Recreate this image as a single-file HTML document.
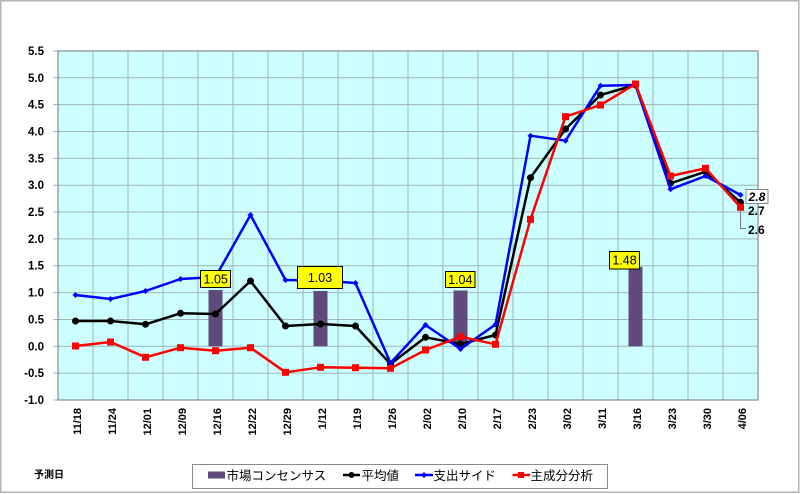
<!DOCTYPE html>
<html><head><meta charset="utf-8"><style>
html,body{margin:0;padding:0;background:#fff;}
svg{display:block;}
text{font-family:"Liberation Sans","Noto Sans CJK JP",sans-serif;}
</style></head><body>
<svg width="800" height="494" viewBox="0 0 800 494" xmlns="http://www.w3.org/2000/svg">
<rect x="0" y="0" width="800" height="494" fill="#fff"/>
<rect x="0.75" y="0.75" width="798" height="491.5" fill="none" stroke="#b4b4b4" stroke-width="1.5"/>
<!-- plot area -->
<rect x="58" y="51" width="700" height="349" fill="#ccffff"/>
<g stroke="#9fb6b6" stroke-width="1">
<line x1="93" y1="51" x2="93" y2="400"/><line x1="128" y1="51" x2="128" y2="400"/><line x1="163" y1="51" x2="163" y2="400"/><line x1="198" y1="51" x2="198" y2="400"/><line x1="233" y1="51" x2="233" y2="400"/><line x1="268" y1="51" x2="268" y2="400"/><line x1="303" y1="51" x2="303" y2="400"/><line x1="338" y1="51" x2="338" y2="400"/><line x1="373" y1="51" x2="373" y2="400"/><line x1="408" y1="51" x2="408" y2="400"/><line x1="443" y1="51" x2="443" y2="400"/><line x1="478" y1="51" x2="478" y2="400"/><line x1="513" y1="51" x2="513" y2="400"/><line x1="548" y1="51" x2="548" y2="400"/><line x1="583" y1="51" x2="583" y2="400"/><line x1="618" y1="51" x2="618" y2="400"/><line x1="653" y1="51" x2="653" y2="400"/><line x1="688" y1="51" x2="688" y2="400"/><line x1="723" y1="51" x2="723" y2="400"/>
<line x1="53" y1="77.8" x2="758" y2="77.8"/><line x1="53" y1="104.65" x2="758" y2="104.65"/><line x1="53" y1="131.5" x2="758" y2="131.5"/><line x1="53" y1="158.35" x2="758" y2="158.35"/><line x1="53" y1="185.2" x2="758" y2="185.2"/><line x1="53" y1="212.05" x2="758" y2="212.05"/><line x1="53" y1="238.9" x2="758" y2="238.9"/><line x1="53" y1="265.75" x2="758" y2="265.75"/><line x1="53" y1="292.6" x2="758" y2="292.6"/><line x1="53" y1="319.45" x2="758" y2="319.45"/><line x1="53" y1="346.3" x2="758" y2="346.3"/><line x1="53" y1="373.15" x2="758" y2="373.15"/>
<line x1="53" y1="51" x2="58" y2="51"/><line x1="53" y1="400" x2="58" y2="400"/>
</g>
<rect x="58" y="51" width="700" height="349" fill="none" stroke="#8a8a8a" stroke-width="1.2"/>
<!-- y labels -->
<g font-size="11.5" font-weight="bold" fill="#000" text-anchor="end">
<text x="44" y="55">5.5</text><text x="44" y="81.8">5.0</text><text x="44" y="108.6">4.5</text><text x="44" y="135.5">4.0</text><text x="44" y="162.3">3.5</text><text x="44" y="189.2">3.0</text><text x="44" y="216">2.5</text><text x="44" y="242.9">2.0</text><text x="44" y="269.7">1.5</text><text x="44" y="296.6">1.0</text><text x="44" y="323.4">0.5</text><text x="44" y="350.3">0.0</text><text x="44" y="377.1">-0.5</text><text x="44" y="404">-1.0</text>
</g>
<!-- x labels -->
<g font-size="11" font-weight="bold" fill="#000" text-anchor="end">
<text transform="translate(81,408) rotate(-90)">11/18</text>
<text transform="translate(116,408) rotate(-90)">11/24</text>
<text transform="translate(151,408) rotate(-90)">12/01</text>
<text transform="translate(186,408) rotate(-90)">12/09</text>
<text transform="translate(221,408) rotate(-90)">12/16</text>
<text transform="translate(256,408) rotate(-90)">12/22</text>
<text transform="translate(291,408) rotate(-90)">12/29</text>
<text transform="translate(326,408) rotate(-90)">1/12</text>
<text transform="translate(361,408) rotate(-90)">1/19</text>
<text transform="translate(396,408) rotate(-90)">1/26</text>
<text transform="translate(431,408) rotate(-90)">2/02</text>
<text transform="translate(466,408) rotate(-90)">2/10</text>
<text transform="translate(501,408) rotate(-90)">2/17</text>
<text transform="translate(536,408) rotate(-90)">2/23</text>
<text transform="translate(571,408) rotate(-90)">3/02</text>
<text transform="translate(606,408) rotate(-90)">3/11</text>
<text transform="translate(641,408) rotate(-90)">3/16</text>
<text transform="translate(676,408) rotate(-90)">3/23</text>
<text transform="translate(711,408) rotate(-90)">3/30</text>
<text transform="translate(746,408) rotate(-90)">4/06</text>
</g>
<!-- bars -->
<g fill="#5f4a7b">
<rect x="208.5" y="290" width="14" height="56.3"/>
<rect x="313.5" y="291" width="14" height="55.3"/>
<rect x="453.5" y="290.5" width="14" height="55.8"/>
<rect x="628.5" y="266.8" width="14" height="79.5"/>
</g>
<!-- black line -->
<polyline fill="none" stroke="#000" stroke-width="2.5" stroke-linejoin="round" points="75.5,321 110.5,321 145.5,324.3 180.5,313.3 215.5,314 250.5,281 285.5,326 320.5,324 355.5,326 390.5,364 425.5,337.3 460.5,344 495.5,335 530.5,177.7 565.5,129 600.5,95 635.5,85 670.5,183.3 705.5,171.7 740.5,202.3"/>
<g fill="#000">
<circle cx="75.5" cy="321" r="3.5"/><circle cx="110.5" cy="321" r="3.5"/><circle cx="145.5" cy="324.3" r="3.5"/><circle cx="180.5" cy="313.3" r="3.5"/><circle cx="215.5" cy="314" r="3.5"/><circle cx="250.5" cy="281" r="3.5"/><circle cx="285.5" cy="326" r="3.5"/><circle cx="320.5" cy="324" r="3.5"/><circle cx="355.5" cy="326" r="3.5"/><circle cx="390.5" cy="364" r="3.5"/><circle cx="425.5" cy="337.3" r="3.5"/><circle cx="460.5" cy="344" r="3.5"/><circle cx="495.5" cy="335" r="3.5"/><circle cx="530.5" cy="177.7" r="3.5"/><circle cx="565.5" cy="129" r="3.5"/><circle cx="600.5" cy="95" r="3.5"/><circle cx="635.5" cy="85" r="3.5"/><circle cx="670.5" cy="183.3" r="3.5"/><circle cx="705.5" cy="171.7" r="3.5"/><circle cx="740.5" cy="202.3" r="3.5"/>
</g>
<!-- blue line -->
<polyline fill="none" stroke="#0000ff" stroke-width="2.5" stroke-linejoin="round" points="75.5,295 110.5,299 145.5,291 180.5,279 215.5,277 250.5,215 285.5,280 320.5,280.5 355.5,283 390.5,363 425.5,325 460.5,349 495.5,324.5 530.5,135.7 565.5,140.7 600.5,85.7 635.5,85 670.5,189.3 705.5,176 740.5,195"/>
<g fill="#0000ff">
<path d="M75.5,292 l3,3 l-3,3 l-3,-3z"/><path d="M110.5,296 l3,3 l-3,3 l-3,-3z"/><path d="M145.5,288 l3,3 l-3,3 l-3,-3z"/><path d="M180.5,276 l3,3 l-3,3 l-3,-3z"/><path d="M250.5,212 l3,3 l-3,3 l-3,-3z"/><path d="M285.5,277 l3,3 l-3,3 l-3,-3z"/><path d="M355.5,280 l3,3 l-3,3 l-3,-3z"/><path d="M390.5,360 l3,3 l-3,3 l-3,-3z"/><path d="M425.5,322 l3,3 l-3,3 l-3,-3z"/><path d="M460.5,346 l3,3 l-3,3 l-3,-3z"/><path d="M495.5,321.5 l3,3 l-3,3 l-3,-3z"/><path d="M530.5,132.7 l3,3 l-3,3 l-3,-3z"/><path d="M565.5,137.7 l3,3 l-3,3 l-3,-3z"/><path d="M600.5,82.7 l3,3 l-3,3 l-3,-3z"/><path d="M670.5,186.3 l3,3 l-3,3 l-3,-3z"/><path d="M705.5,173 l3,3 l-3,3 l-3,-3z"/><path d="M740.5,192 l3,3 l-3,3 l-3,-3z"/>
</g>
<!-- red line -->
<polyline fill="none" stroke="#ff0000" stroke-width="2.5" stroke-linejoin="round" points="75.5,346 110.5,342 145.5,357.3 180.5,347.7 215.5,350.7 250.5,347.7 285.5,372.3 320.5,367.3 355.5,367.7 390.5,368.3 425.5,350 460.5,336.7 495.5,344.3 530.5,219.3 565.5,116.7 600.5,105 635.5,84 670.5,176 705.5,168.3 740.5,207.3"/>
<g fill="#ff0000">
<rect x="72" y="342.5" width="7" height="7"/><rect x="107" y="338.5" width="7" height="7"/><rect x="142" y="353.8" width="7" height="7"/><rect x="177" y="344.2" width="7" height="7"/><rect x="212" y="347.2" width="7" height="7"/><rect x="247" y="344.2" width="7" height="7"/><rect x="282" y="368.8" width="7" height="7"/><rect x="317" y="363.8" width="7" height="7"/><rect x="352" y="364.2" width="7" height="7"/><rect x="387" y="364.8" width="7" height="7"/><rect x="422" y="346.5" width="7" height="7"/><rect x="457" y="333.2" width="7" height="7"/><rect x="492" y="340.8" width="7" height="7"/><rect x="527" y="215.8" width="7" height="7"/><rect x="562" y="113.2" width="7" height="7"/><rect x="597" y="101.5" width="7" height="7"/><rect x="632" y="80.5" width="7" height="7"/><rect x="667" y="172.5" width="7" height="7"/><rect x="702" y="164.8" width="7" height="7"/><rect x="737" y="203.8" width="7" height="7"/>
</g>
<!-- bar data labels -->
<g font-size="12.5" fill="#000" text-anchor="middle">
<rect x="200.5" y="270.5" width="30" height="17" fill="#ffff00" stroke="#000" stroke-width="1"/>
<text x="215.7" y="283.5">1.05</text>
<rect x="297.5" y="266.5" width="45" height="22" fill="#ffff00" stroke="#000" stroke-width="1"/>
<text x="320" y="282">1.03</text>
<rect x="445.5" y="271.5" width="29.5" height="16" fill="#ffff00" stroke="#000" stroke-width="1"/>
<text x="460.3" y="284">1.04</text>
<rect x="609.5" y="251.5" width="30" height="17.5" fill="#ffff00" stroke="#000" stroke-width="1"/>
<text x="624.5" y="264.5">1.48</text>
</g>
<!-- end labels -->
<rect x="746" y="189.5" width="22" height="14" fill="#fff" stroke="#888" stroke-width="1"/>
<text x="757" y="201" font-size="12" font-weight="bold" font-style="italic" text-anchor="middle">2.8</text>
<text x="748" y="215" font-size="12" font-weight="bold">2.7</text>
<polyline points="740.5,211 740.5,228.5 746,228.5" fill="none" stroke="#777" stroke-width="1"/>
<text x="748" y="234" font-size="12" font-weight="bold">2.6</text>
<!-- axis title -->
<text x="34" y="478" font-size="10" font-weight="bold">予測日</text>
<!-- legend -->
<rect x="192.5" y="464.5" width="415" height="24" fill="#fff" stroke="#8a8a8a" stroke-width="1"/>
<rect x="208" y="471.5" width="17" height="7" fill="#5f4a7b"/>
<text x="226.5" y="480" font-size="12.5">市場コンセンサス</text>
<line x1="343" y1="475" x2="360" y2="475" stroke="#000" stroke-width="2.5"/>
<circle cx="351.5" cy="475" r="3" fill="#000"/>
<text x="361.5" y="480" font-size="12.5">平均値</text>
<line x1="415" y1="475" x2="433" y2="475" stroke="#0000ff" stroke-width="2.5"/>
<path d="M424,472 l3,3 l-3,3 l-3,-3z" fill="#0000ff"/>
<text x="433.5" y="480" font-size="12.5">支出サイド</text>
<line x1="512.5" y1="475" x2="530" y2="475" stroke="#ff0000" stroke-width="2.5"/>
<rect x="518" y="472" width="6" height="6" fill="#ff0000"/>
<text x="530.5" y="480" font-size="12.5">主成分分析</text>
</svg>
</body></html>
